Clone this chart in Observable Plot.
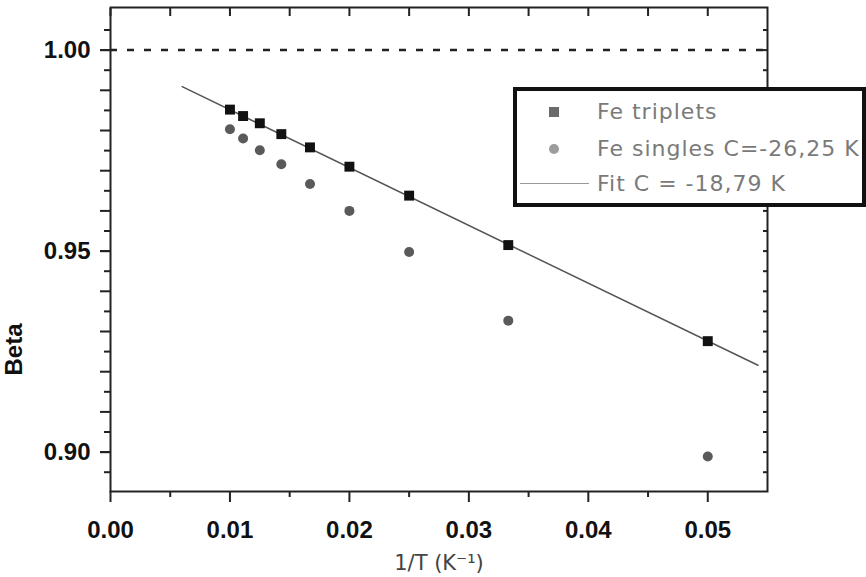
<!DOCTYPE html>
<html>
<head>
<meta charset="utf-8">
<script src="https://cdn.jsdelivr.net/npm/d3@7"></script>
<script src="https://cdn.jsdelivr.net/npm/@observablehq/plot@0.6"></script>
<style>
  html, body { margin: 0; padding: 0; background: #fff; }
  #wrap { position: relative; width: 866px; height: 577px; overflow: hidden; }
  #legend {
    position: absolute; left: 513px; top: 87px; width: 353px; height: 120px;
    border: 4px solid #111; box-sizing: border-box; background: #fff;
    font-family: "DejaVu Sans", sans-serif; font-size: 22px; color: #7a7a7a; letter-spacing: 1px;
  }
  #legend .row { position: absolute; left: 0; height: 26px; line-height: 26px; width: 100%; }
  #legend .lbl { position: absolute; left: 80px; top: 0; white-space: nowrap; }
  #legend .sq { position: absolute; left: 32px; top: 8px; width: 10px; height: 10px; background: #6a6a6a; }
  #legend .ci { position: absolute; left: 32px; top: 8px; width: 10px; height: 10px; border-radius: 50%; background: #9c9c9c; }
  #legend .ln { position: absolute; left: 3px; top: 12px; width: 69px; height: 0; border-top: 1.5px solid #999; }
</style>
</head>
<body>
<div id="wrap"></div>
<script>
// ---- data ----
const invT = [0.0100, 0.0111, 0.0125, 0.0143, 0.0167, 0.0200, 0.0250, 0.0333, 0.0500];
const betaTriplets = [0.9852, 0.9836, 0.9818, 0.9791, 0.9758, 0.9710, 0.9638, 0.9515, 0.9276];
const betaSingles  = [0.9803, 0.9780, 0.9751, 0.9716, 0.9667, 0.9600, 0.9498, 0.9327, 0.8989];
const fitX = [0.0060, 0.0542];
const fitBeta = [0.9909, 0.9216];
const xTickValues = [0.00, 0.01, 0.02, 0.03, 0.04, 0.05];
const xMinorTicks = [0.005, 0.015, 0.025, 0.035, 0.045];
const yLabelTicks = [0.90, 0.95, 1.00];
const yMajorTicks = [0.90, 0.91, 0.92, 0.93, 0.94, 0.95, 0.96, 0.97, 0.98, 0.99, 1.00];
const yMinorTicks = [0.895, 0.905, 0.915, 0.925, 0.935, 0.945, 0.955, 0.965, 0.975, 0.985, 0.995, 1.005];
const seriesNames = ["Fe triplets", "Fe singles C=-26,25 K", "Fit C = -18,79 K"];
const xTitle = "1/T (K\u207B\u00B9)";
const yTitle = "Beta";

const triplets = invT.map((x, i) => ({x, y: betaTriplets[i]}));
const singles = invT.map((x, i) => ({x, y: betaSingles[i]}));
const fit = fitX.map((x, i) => ({x, y: fitBeta[i]}));

const axisColor = "#222";
const tickOnly = {stroke: axisColor, fill: "none", strokeWidth: 2, label: null};
const plot = Plot.plot({
  width: 866,
  height: 577,
  marginLeft: 110,
  marginRight: 99,
  marginTop: 7,
  marginBottom: 86,
  x: {domain: [0, 0.055]},
  y: {domain: [0.8902, 1.0106]},
  style: {background: "white", fontFamily: "'Liberation Sans', Arial, sans-serif", color: "#111", overflow: "visible"},
  marks: [
    Plot.ruleY([1.0], {stroke: "#222", strokeWidth: 2.5, strokeDasharray: "7,10"}),
    Plot.line(fit, {x: "x", y: "y", stroke: "#555", strokeWidth: 1.5}),
    Plot.dot(singles, {x: "x", y: "y", r: 5, fill: "#5a5a5a", symbol: "circle"}),
    Plot.dot(triplets, {x: "x", y: "y", r: 5.6, fill: "#111", symbol: "square"}),
    Plot.frame({stroke: axisColor, strokeWidth: 2}),
    // bottom axis
    Plot.axisX(xTickValues, {anchor: "bottom", tickSize: 11, tickPadding: 18, strokeWidth: 2, stroke: axisColor, fill: "#111",
      tickFormat: d => d.toFixed(2), fontSize: 24, fontWeight: "bold", label: null}),
    Plot.axisX(xMinorTicks, {anchor: "bottom", tickSize: 6, ...tickOnly}),
    // top axis (inward)
    Plot.axisX(xTickValues.concat(xMinorTicks), {anchor: "top", tickSize: 8, dy: 8, ...tickOnly}),
    // left axis
    Plot.axisY(yLabelTicks, {anchor: "left", tickSize: 10, tickPadding: 10, strokeWidth: 2, stroke: axisColor, fill: "#111",
      tickFormat: d => d.toFixed(2), fontSize: 24, fontWeight: "bold", label: null}),
    Plot.axisY(yMajorTicks, {anchor: "left", tickSize: 10, ...tickOnly}),
    Plot.axisY(yMinorTicks, {anchor: "left", tickSize: 6, ...tickOnly}),
    // right axis (inward)
    Plot.axisY(yMajorTicks.concat(yMinorTicks), {anchor: "right", tickSize: 5, dx: -5, ...tickOnly}),
    // titles
    Plot.text([xTitle], {frameAnchor: "bottom", dy: 72, lineAnchor: "middle", fontSize: 21, fill: "#444",
      fontFamily: "'DejaVu Sans', sans-serif"}),
    Plot.text([yTitle], {frameAnchor: "left", dx: -96, dy: 100, rotate: -90, lineAnchor: "middle", textAnchor: "middle",
      fontSize: 24, fontWeight: "bold", fill: "#111"})
  ]
});

const wrap = document.getElementById("wrap");
wrap.appendChild(plot);

// legend overlay
const legend = document.createElement("div");
legend.id = "legend";
const rowsTop = [8, 45, 80];
const swatch = ["sq", "ci", "ln"];
seriesNames.forEach((name, i) => {
  const row = document.createElement("div");
  row.className = "row";
  row.style.top = rowsTop[i] + "px";
  const sw = document.createElement("div");
  sw.className = swatch[i];
  const lbl = document.createElement("span");
  lbl.className = "lbl";
  lbl.textContent = name;
  row.appendChild(sw);
  row.appendChild(lbl);
  legend.appendChild(row);
});
wrap.appendChild(legend);
</script>
</body>
</html>
